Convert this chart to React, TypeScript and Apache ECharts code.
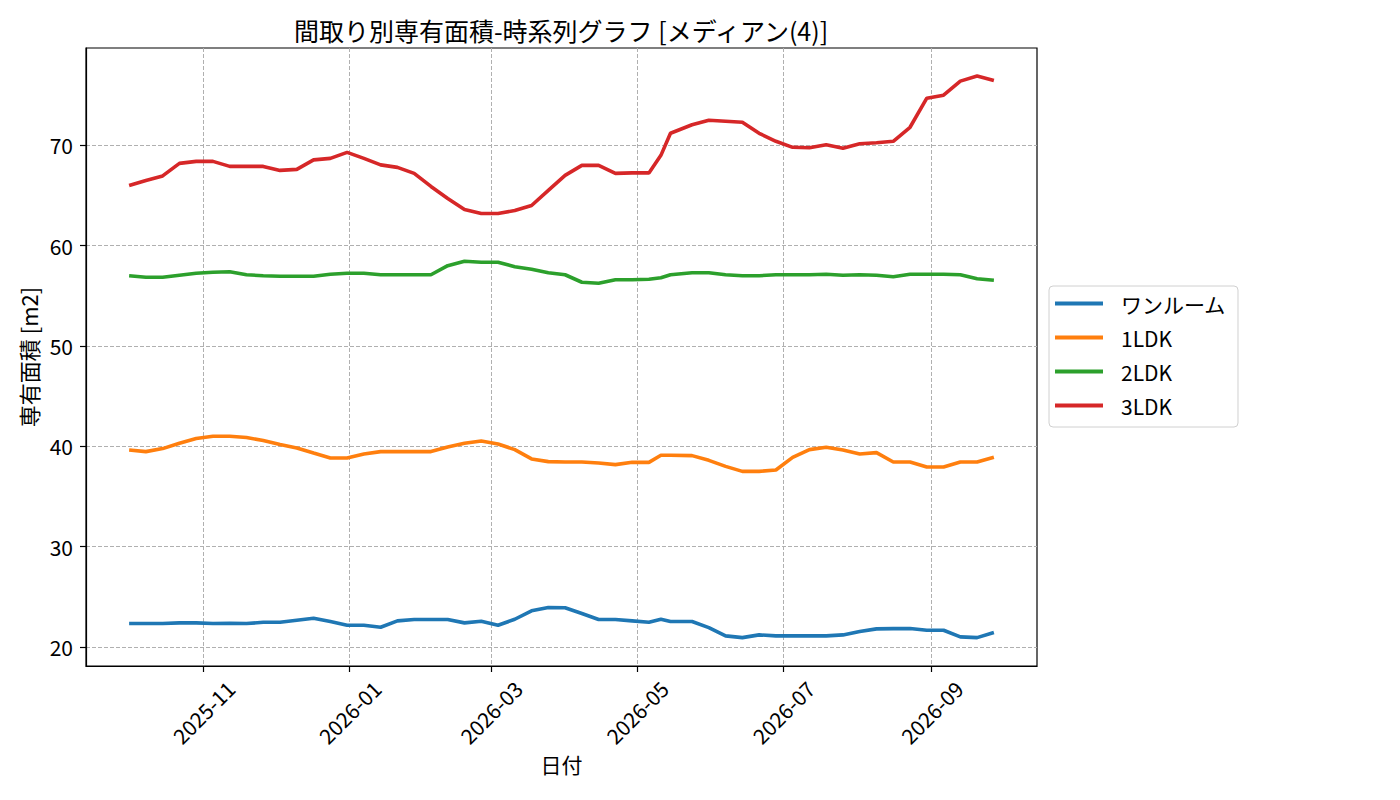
import {useEffect, useRef} from "react";
import * as echarts from "echarts";

const FONT = '"Noto Sans CJK JP", "Noto Sans", sans-serif';

const dates = [
    "2025-10-01", "2025-10-08", "2025-10-15", "2025-10-22", "2025-10-29",
    "2025-11-05", "2025-11-12", "2025-11-19", "2025-11-26",
    "2025-12-03", "2025-12-10", "2025-12-17", "2025-12-24", "2025-12-31",
    "2026-01-07", "2026-01-14", "2026-01-21", "2026-01-28",
    "2026-02-04", "2026-02-11", "2026-02-18", "2026-02-25",
    "2026-03-04", "2026-03-11", "2026-03-18", "2026-03-25",
    "2026-04-01", "2026-04-08", "2026-04-15", "2026-04-22", "2026-04-29",
    "2026-05-06", "2026-05-11", "2026-05-15", "2026-05-24", "2026-05-31",
    "2026-06-07", "2026-06-14", "2026-06-21", "2026-06-28",
    "2026-07-05", "2026-07-12", "2026-07-19", "2026-07-26",
    "2026-08-02", "2026-08-09", "2026-08-16", "2026-08-23", "2026-08-30",
    "2026-09-06", "2026-09-13", "2026-09-20", "2026-09-27",
];

const oneRoom = [
    22.33, 22.33, 22.33, 22.4, 22.4, 22.33, 22.36, 22.33, 22.46, 22.46,
    22.66, 22.86, 22.53, 22.16, 22.16, 21.96, 22.6, 22.73, 22.73, 22.73,
    22.4, 22.56, 22.16, 22.76, 23.6, 23.93, 23.9, 23.33, 22.73, 22.73,
    22.6, 22.46, 22.76, 22.53, 22.53, 21.93, 21.1, 20.93, 21.2, 21.1,
    21.1, 21.1, 21.1, 21.2, 21.53, 21.8, 21.83, 21.83, 21.66, 21.66,
    21.0, 20.93, 21.43,
];

const ldk1 = [
    39.63, 39.47, 39.77, 40.3, 40.77, 41.0, 41.0, 40.87, 40.57, 40.17,
    39.83, 39.33, 38.84, 38.84, 39.23, 39.47, 39.47, 39.47, 39.47, 39.93,
    40.3, 40.53, 40.23, 39.67, 38.74, 38.47, 38.43, 38.43, 38.34, 38.17,
    38.4, 38.4, 39.1, 39.1, 39.07, 38.6, 38.0, 37.5, 37.5, 37.64,
    38.9, 39.67, 39.9, 39.63, 39.23, 39.37, 38.43, 38.43, 37.94, 37.94,
    38.43, 38.43, 38.9,
];

const ldk2 = [
    57.0, 56.85, 56.85, 57.05, 57.25, 57.35, 57.4, 57.1, 57.0, 56.95,
    56.95, 56.95, 57.15, 57.25, 57.25, 57.1, 57.1, 57.1, 57.1, 58.0,
    58.45, 58.35, 58.35, 57.9, 57.65, 57.3, 57.1, 56.35, 56.25, 56.6,
    56.6, 56.65, 56.8, 57.1, 57.3, 57.3, 57.1, 57.0, 57.0, 57.1,
    57.1, 57.1, 57.15, 57.05, 57.1, 57.05, 56.9, 57.15, 57.15, 57.15,
    57.1, 56.7, 56.55,
];

const ldk3 = [
    66.0, 66.5, 66.95, 68.2, 68.4, 68.4, 67.9, 67.9, 67.9, 67.5,
    67.6, 68.55, 68.7, 69.3, 68.7, 68.05, 67.8, 67.2, 65.9, 64.7,
    63.6, 63.2, 63.2, 63.5, 64.0, 65.5, 67.0, 68.0, 68.0, 67.2,
    67.25, 67.25, 69.0, 71.2, 72.05, 72.5, 72.4, 72.3, 71.2, 70.4,
    69.8, 69.75, 70.05, 69.7, 70.15, 70.25, 70.4, 71.8, 74.7, 75.0,
    76.4, 76.9, 76.45,
];

const seriesNames = ["ワンルーム", "1LDK", "2LDK", "3LDK"];
const seriesColors = ["#1f77b4", "#ff7f0e", "#2ca02c", "#d62728"];
const xTicks = ["2025-11-01", "2026-01-01", "2026-03-01", "2026-05-01", "2026-07-01", "2026-09-01"];
const yTicks = [20, 30, 40, 50, 60, 70];
const xRange = ["2025-09-13", "2026-10-15"];
const yRange = [18.1, 79.7];

function toTime(s: string): number {
    const [y, m, d] = s.split("-").map(Number);
    return new Date(y, m - 1, d).getTime();
}

function monthLabel(v: number): string {
    const d = new Date(v);
    return `${d.getFullYear()}-${String(d.getMonth() + 1).padStart(2, "0")}`;
}

export default function App() {
    const domRef = useRef<HTMLDivElement>(null);

    useEffect(() => {
        if (!domRef.current) return;
        const chart = echarts.init(domRef.current, null, {renderer: "svg"});
        const values = [oneRoom, ldk1, ldk2, ldk3];
        const gridLine = {show: true, lineStyle: {color: "#b0b0b0", width: 1, type: [4, 2]}};

        chart.setOption({
            animation: false,
            textStyle: {fontFamily: FONT},
            title: {
                text: "間取り別専有面積-時系列グラフ [メディアン(4)]",
                left: 561, top: 17, textAlign: "center", padding: 0,
                textStyle: {fontFamily: FONT, fontSize: 25, fontWeight: "normal", color: "#000"},
            },
            grid: {left: 86, right: 363, top: 48, bottom: 134, show: true, borderColor: "#000", borderWidth: 1.2},
            legend: {
                orient: "vertical", left: 1049, top: 286,
                padding: [7, 12, 11, 6], itemWidth: 48, itemHeight: 4, itemGap: 13,
                icon: "rect",
                borderColor: "#d0d0d0", borderWidth: 1, borderRadius: 4, backgroundColor: "#fff",
                textStyle: {fontFamily: FONT, fontSize: 21, color: "#000", lineHeight: 21, padding: [0, 0, 0, 13]},
                data: seriesNames,
            },
            xAxis: {
                type: "value",
                min: toTime(xRange[0]), max: toTime(xRange[1]),
                name: "日付", nameLocation: "middle", nameGap: 86,
                nameTextStyle: {fontFamily: FONT, fontSize: 21, color: "#000", verticalAlign: "top"},
                axisLine: {show: true, lineStyle: {color: "#000", width: 1.2}},
                axisTick: {show: true, length: 6, lineStyle: {color: "#000", width: 1.2}, customValues: xTicks.map(toTime)},
                axisLabel: {
                    customValues: xTicks.map(toTime), formatter: monthLabel,
                    rotate: 45, align: "center", verticalAlign: "middle", margin: 46,
                    fontFamily: FONT, fontSize: 21, color: "#000",
                },
                splitLine: gridLine,
            },
            yAxis: {
                type: "value", min: yRange[0], max: yRange[1],
                name: "専有面積 [m2]", nameLocation: "middle", nameGap: 43,
                nameTextStyle: {fontFamily: FONT, fontSize: 22, color: "#000"},
                axisLine: {show: true, lineStyle: {color: "#000", width: 1.2}},
                axisTick: {show: true, length: 6, lineStyle: {color: "#000", width: 1.2}, customValues: yTicks},
                axisLabel: {customValues: yTicks, margin: 13, fontFamily: FONT, fontSize: 21, color: "#000"},
                splitLine: gridLine,
            },
            series: seriesNames.map((name, i) => ({
                name, type: "line", showSymbol: false, symbol: "none",
                color: seriesColors[i],
                lineStyle: {width: 3.6, color: seriesColors[i]},
                data: dates.map((d, j) => [toTime(d), values[i][j]]),
            })),
        });

        return () => chart.dispose();
    }, []);

    return <div ref={domRef} style={{position: "absolute", left: 0, top: 0, width: 1400, height: 800}} />;
}
